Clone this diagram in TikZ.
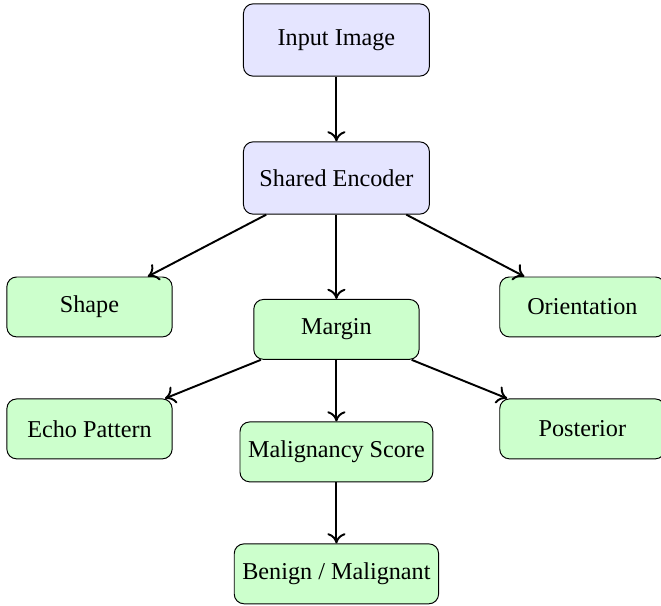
\documentclass[tikz,border=0pt]{standalone}
\usepackage{fontspec}
\setmainfont{Liberation Serif}
\usetikzlibrary{arrows.meta}

\begin{document}
\begin{tikzpicture}[
    stage/.style={draw, rounded corners, fill=blue!10, minimum width=2.7cm, minimum height=1.05cm},
    head/.style={draw, rounded corners, fill=green!20, minimum width=2.4cm, minimum height=0.87cm},
    flow/.style={-{To[length=4.2pt,width=7.5pt]}, thick}
  ]
    \useasboundingbox (0,0) rectangle (9.6,-8.8);
    \node[stage] (input) at (4.886,-0.581) {Input Image};
    \node[stage] (encoder) at (4.886,-2.585) {Shared Encoder};
    \node[head] (shape) at (1.300,-4.458) {Shape};
    \node[head] (margin) at (4.886,-4.784) {Margin};
    \node[head] (orient) at (8.458,-4.458) {Orientation};
    \node[head] (echo) at (1.300,-6.229) {Echo Pattern};
    \node[head] (score) at (4.886,-6.563) {Malignancy Score};
    \node[head] (post) at (8.458,-6.229) {Posterior};
    \node[head] (label) at (4.886,-8.334) {Benign / Malignant};
    \draw[flow] (input) -- (encoder);
    \draw[flow] (encoder) -- (shape);
    \draw[flow] (encoder) -- (margin);
    \draw[flow] (encoder) -- (orient);
    \draw[flow] (margin) -- (echo);
    \draw[flow] (margin) -- (score);
    \draw[flow] (margin) -- (post);
    \draw[flow] (score) -- (label);
  \end{tikzpicture}
\end{document}
